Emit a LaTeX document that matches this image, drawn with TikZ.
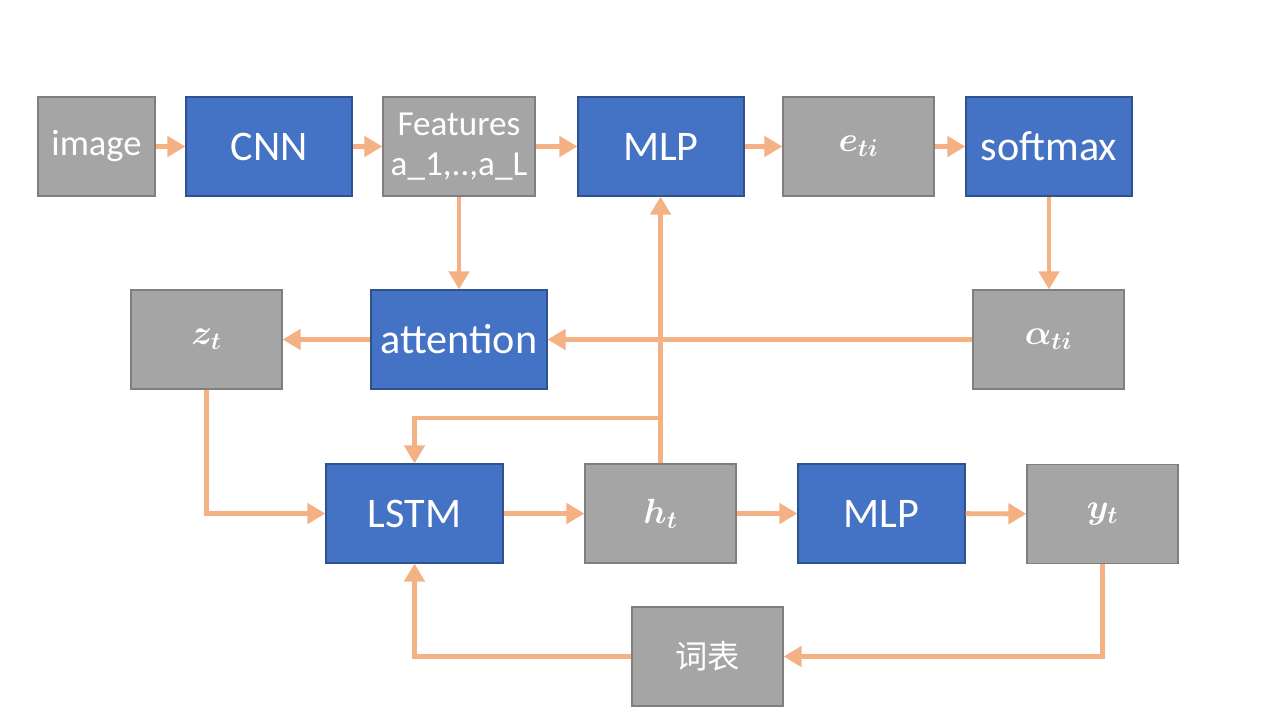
\documentclass[tikz,border=0pt]{standalone}
\usepackage{bm}
\usepackage{fontspec}
\setmainfont{Carlito}
\newfontfamily\cjk{Noto Sans CJK SC}
\usetikzlibrary{positioning,arrows.meta,calc}
\definecolor{boxblue}{HTML}{4472C4}
\definecolor{blueedge}{HTML}{2F528F}
\definecolor{boxgrey}{HTML}{A5A5A5}
\definecolor{greyedge}{HTML}{7F7F7F}
\definecolor{flow}{HTML}{F4B183}
\tikzset{block/.style={draw,line width=0.8pt,minimum height=2.475cm,align=center,text=white},
         bluebox/.style={block,fill=boxblue,draw=blueedge,font=\fontsize{30}{33}\selectfont},
         greybox/.style={block,fill=boxgrey,draw=greyedge,font=\fontsize{26}{29}\selectfont},
         line/.style={draw=flow,line width=3.5pt,-{Triangle[length=0.45cm,width=0.5cm]}}
}
\begin{document}
\begin{tikzpicture}
  \useasboundingbox (0,0) rectangle (32,-18);
  % top row
  \node[greybox, minimum width=2.925cm] (img) at (2.4125,-3.6625) {image};
  \node[bluebox, minimum width=4.15cm] (cnn) at (6.725,-3.6625) {CNN};
  \node[greybox, minimum width=3.8cm, font=\fontsize{25}{28}\selectfont] (feat) at (11.475,-3.6625) {Features\\a\_1,..,a\_L};
  \node[bluebox, minimum width=4.15cm] (mlpa) at (16.525,-3.6625) {MLP};
  \node[greybox, minimum width=3.775cm] (eti) at (21.4625,-3.6625) {$\bm{e_{ti}}$};
  \node[bluebox, minimum width=4.15cm] (soft) at (26.225,-3.6625) {softmax};
  % middle row
  \node[greybox, minimum width=3.775cm] (zt) at (5.1625,-8.4875) {$\bm{z_t}$};
  \node[bluebox, minimum width=4.4cm] (att) at (11.475,-8.4875) {attention};
  \node[greybox, minimum width=3.775cm] (alpha) at (26.2125,-8.4875) {$\bm{\alpha_{ti}}$};
  % bottom rows
  \node[bluebox, minimum width=4.425cm] (lstm) at (10.3625,-12.8375) {LSTM};
  \node[greybox, minimum width=3.775cm] (ht) at (16.5125,-12.8375) {$\bm{h_t}$};
  \node[bluebox, minimum width=4.175cm] (mlpb) at (22.0375,-12.8375) {MLP};
  \node[greybox, minimum width=3.775cm] (yt) at (27.5625,-12.85) {$\bm{y_t}$};
  \node[greybox, minimum width=3.775cm, font=\fontsize{23}{26}\selectfont\cjk] (vocab) at (17.6875,-16.4125) {词表};
  \coordinate (br) at (16.5125,-10.45);

  \draw[line] (img) -- (cnn);
  \draw[line] (cnn) -- (feat);
  \draw[line] (feat) -- (mlpa);
  \draw[line] (mlpa) -- (eti);
  \draw[line] (eti) -- (soft);
  \draw[line] (feat) -- (att);
  \draw[line] (soft.south) -- (soft.south |- alpha.north);
  \draw[line] (alpha) -- (att);
  \draw[line] (att) -- (zt);
  \draw[line] (zt.south) |- (lstm.west);
  \draw[line] (lstm) -- (ht);
  \draw[line] (ht) -- (mlpb);
  \draw[line] (mlpb) -- (yt);
  \draw[line] (ht.north) -- (ht.north |- mlpa.south);
  \draw[line] (br) -| (lstm.north);
  \draw[line] (yt.south) |- (vocab.east);
  \draw[line] (vocab.west) -| (lstm.south);
\end{tikzpicture}
\end{document}
